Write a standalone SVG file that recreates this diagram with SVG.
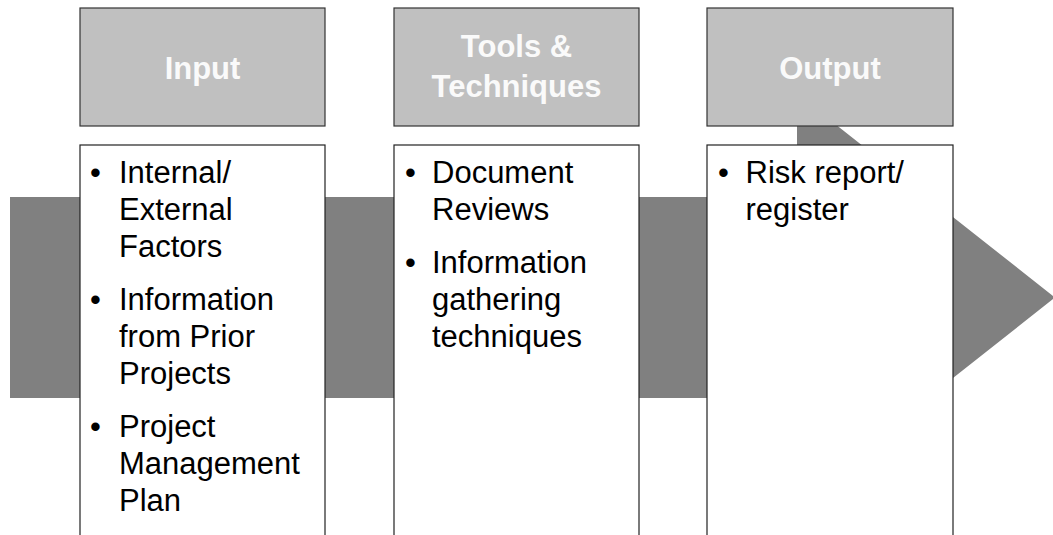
<svg xmlns="http://www.w3.org/2000/svg" width="1053" height="535" viewBox="0 0 1053 535">
<style>
.hdr{fill:#c0c0c0;stroke:#333;stroke-width:1.2}
.box{fill:#fff;stroke:#222;stroke-width:1.2}
.ht{font-family:"Liberation Sans",Arial,sans-serif;font-weight:bold;font-size:31px;fill:#fafafa;text-anchor:middle}
.bt{font-family:"Liberation Sans",Arial,sans-serif;font-size:31px;fill:#000}
.arrow{fill:#808080}
</style>
<rect width="1053" height="535" fill="#fff"/>
<g id="connectors">
<path class="arrow" d="M10 197 H797 V94 L1055 297.5 L797 501 V398 H10 Z"/>
</g>
<g id="input">
<rect class="hdr" x="80" y="8" width="245" height="118"/>
<text class="ht" x="202.5" y="79">Input</text>
<rect class="box" x="80" y="145" width="245" height="400"/>
<text class="bt"><tspan x="90" y="183">•</tspan><tspan x="119" y="183">Internal/</tspan><tspan x="119" y="220">External</tspan><tspan x="119" y="257">Factors</tspan><tspan x="90" y="310">•</tspan><tspan x="119" y="310">Information</tspan><tspan x="119" y="347">from Prior</tspan><tspan x="119" y="384">Projects</tspan><tspan x="90" y="437">•</tspan><tspan x="119" y="437">Project</tspan><tspan x="119" y="474">Management</tspan><tspan x="119" y="511">Plan</tspan></text>
</g>
<g id="tools">
<rect class="hdr" x="394" y="8" width="245" height="118"/>
<text class="ht"><tspan x="516.5" y="57">Tools &amp;</tspan><tspan x="516.5" y="97">Techniques</tspan></text>
<rect class="box" x="394" y="145" width="245" height="400"/>
<text class="bt"><tspan x="405" y="183">•</tspan><tspan x="432" y="183">Document</tspan><tspan x="432" y="220">Reviews</tspan><tspan x="405" y="273">•</tspan><tspan x="432" y="273">Information</tspan><tspan x="432" y="310">gathering</tspan><tspan x="432" y="347">techniques</tspan></text>
</g>
<g id="output">
<rect class="hdr" x="707" y="8" width="246" height="118"/>
<text class="ht" x="830" y="79">Output</text>
<rect class="box" x="707" y="145" width="246" height="400"/>
<text class="bt"><tspan x="718" y="183">•</tspan><tspan x="745.5" y="183">Risk report/</tspan><tspan x="745.5" y="220">register</tspan></text>
</g>
</svg>
